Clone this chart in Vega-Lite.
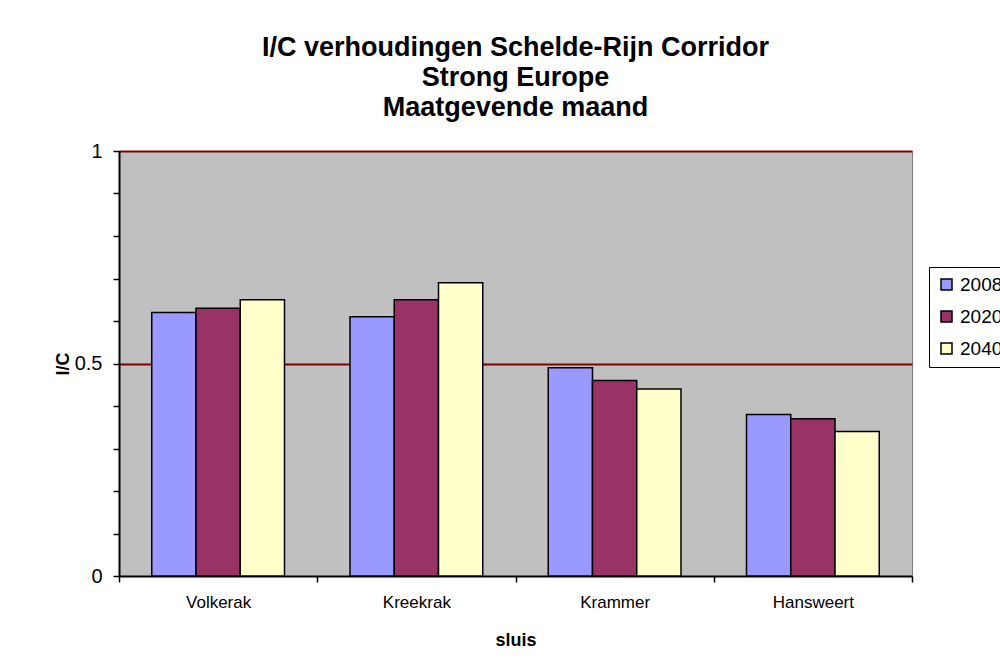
{
  "$schema": "https://vega.github.io/schema/vega-lite/v6.json",
  "autosize": "none",
  "padding": {"left": 119, "top": 151, "right": 88, "bottom": 85},
  "width": 793,
  "height": 425,
  "background": "white",
  "title": {
    "text": ["I/C verhoudingen Schelde-Rijn Corridor", "Strong Europe", "Maatgevende maand"],
    "font": "Liberation Sans",
    "fontSize": 27,
    "fontWeight": "bold",
    "color": "black",
    "anchor": "middle",
    "lineHeight": 30,
    "offset": 19
  },
  "data": {
    "values": [
      {"sluis": "Volkerak", "jaar": "2008", "ic": 0.62},
      {"sluis": "Volkerak", "jaar": "2020", "ic": 0.63},
      {"sluis": "Volkerak", "jaar": "2040", "ic": 0.65},
      {"sluis": "Kreekrak", "jaar": "2008", "ic": 0.61},
      {"sluis": "Kreekrak", "jaar": "2020", "ic": 0.65},
      {"sluis": "Kreekrak", "jaar": "2040", "ic": 0.69},
      {"sluis": "Krammer", "jaar": "2008", "ic": 0.49},
      {"sluis": "Krammer", "jaar": "2020", "ic": 0.46},
      {"sluis": "Krammer", "jaar": "2040", "ic": 0.44},
      {"sluis": "Hansweert", "jaar": "2008", "ic": 0.38},
      {"sluis": "Hansweert", "jaar": "2020", "ic": 0.37},
      {"sluis": "Hansweert", "jaar": "2040", "ic": 0.34}
    ]
  },
  "mark": {"type": "bar", "stroke": "black", "strokeWidth": 1.5},
  "encoding": {
    "x": {
      "field": "sluis",
      "type": "nominal",
      "sort": ["Volkerak", "Kreekrak", "Krammer", "Hansweert"],
      "scale": {"paddingInner": 0, "paddingOuter": 0},
      "axis": {
        "title": "sluis",
        "titleFont": "Liberation Sans",
        "titleFontSize": 18,
        "titleFontWeight": "bold",
        "titleColor": "black",
        "titlePadding": 21,
        "labelAngle": 0,
        "labelFont": "Liberation Sans",
        "labelFontSize": 17,
        "labelColor": "black",
        "labelPadding": 12,
        "tickBand": "extent",
        "tickSize": 6,
        "tickColor": "black",
        "tickWidth": 1.5,
        "domainColor": "black",
        "domainWidth": 2,
        "grid": false
      }
    },
    "xOffset": {
      "field": "jaar",
      "type": "nominal",
      "scale": {"paddingInner": 0, "paddingOuter": 0.74}
    },
    "y": {
      "field": "ic",
      "type": "quantitative",
      "scale": {"domain": [0, 1], "nice": false},
      "axis": {
        "title": "I/C",
        "titleFont": "Liberation Sans",
        "titleFontSize": 18,
        "titleFontWeight": "bold",
        "titleColor": "black",
        "titlePadding": 2,
        "values": [0, 0.1, 0.2, 0.3, 0.4, 0.5, 0.6, 0.7, 0.8, 0.9, 1],
        "format": "~g",
        "labelExpr": "datum.value == 0 || datum.value == 0.5 || datum.value == 1 ? datum.label : ''",
        "labelFont": "Liberation Sans",
        "labelFontSize": 20,
        "labelColor": "black",
        "labelPadding": 11,
        "tickSize": 6,
        "tickColor": "black",
        "tickWidth": 1.5,
        "domainColor": "black",
        "domainWidth": 2,
        "grid": true,
        "gridColor": "#800000",
        "gridWidth": 2,
        "gridOpacity": {"condition": {"test": "datum.value == 0.5 || datum.value == 1", "value": 1}, "value": 0}
      }
    },
    "fill": {
      "field": "jaar",
      "type": "nominal",
      "scale": {"domain": ["2008", "2020", "2040"], "range": ["#9999FF", "#993366", "#FFFFCC"]},
      "legend": {
        "title": null,
        "orient": "none",
        "legendX": 810,
        "legendY": 116,
        "fillColor": "white",
        "strokeColor": "black",
        "padding": 8,
        "symbolType": "square",
        "symbolSize": 121,
        "symbolStrokeColor": "black",
        "symbolStrokeWidth": 1.5,
        "symbolOpacity": 1,
        "labelFont": "Liberation Sans",
        "labelFontSize": 19,
        "labelColor": "black",
        "labelOffset": 4,
        "rowPadding": 12
      }
    }
  },
  "config": {
    "view": {"fill": "#C0C0C0", "stroke": "#808080", "strokeWidth": 1},
    "axis": {"labelFont": "Liberation Sans"}
  }
}
